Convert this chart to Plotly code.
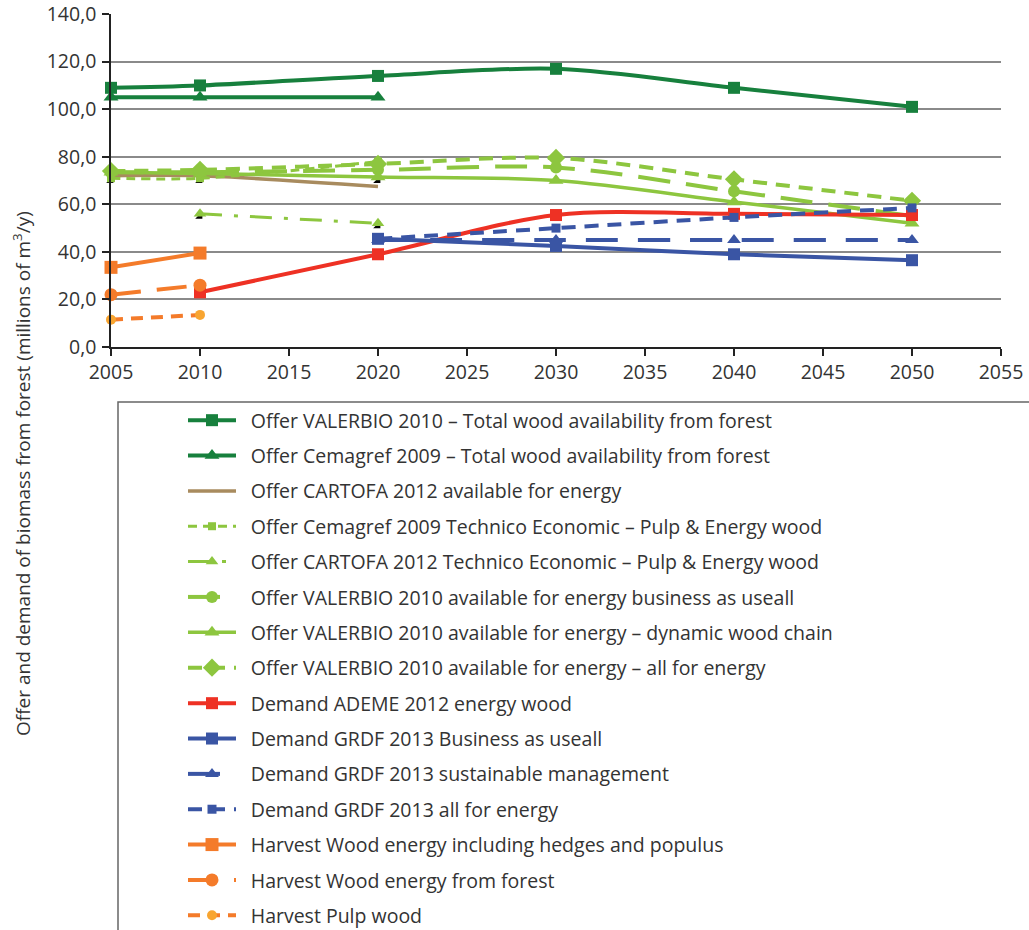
import plotly.graph_objects as go

# ---------------- data ----------------
years_all = [2005, 2010, 2020, 2030, 2040, 2050]
years_early = [2005, 2010, 2020]
years_2010_2020 = [2010, 2020]
years_demand = [2010, 2020, 2030, 2040, 2050]
years_grdf = [2020, 2030, 2040, 2050]
years_harvest = [2005, 2010]

valerbio_total = [109, 110, 114, 117, 109, 101]
cemagref_total = [105, 105, 105]
cartofa_energy = [72, 72, 67.5]
cemagref_tech = [71, 71, 78]
cartofa_tech = [56, 52]
valerbio_bau = [73.5, 73.5, 74.5, 75.5, 65.5, 55]
valerbio_dyn = [73.5, 73, 71.5, 70, 61, 52]
valerbio_all = [74, 74.5, 77, 79.5, 70.5, 61.5]
ademe_demand = [23, 39, 55.5, 56, 55.5]
grdf_bau = [45.5, 42.5, 39, 36.5]
grdf_sust = [45, 45, 45, 45]
grdf_all = [45.5, 50, 54.5, 58.5]
harvest_hedges = [33.5, 39.5]
harvest_forest = [22, 26]
harvest_pulp = [11.5, 13.5]

shadow_years = [2005, 2010, 2020, 2010, 2020]
shadow_values = [70, 70, 70, 55, 51]

y_ticks = [0, 20, 40, 60, 80, 100, 120, 140]

names = [
    "Offer VALERBIO 2010 – Total wood availability from forest",
    "Offer Cemagref 2009 – Total wood availability from forest",
    "Offer CARTOFA 2012 available for energy",
    "Offer Cemagref 2009 Technico Economic – Pulp & Energy wood",
    "Offer CARTOFA 2012 Technico Economic – Pulp & Energy wood",
    "Offer VALERBIO 2010 available for energy business as useall",
    "Offer VALERBIO 2010 available for energy – dynamic wood chain",
    "Offer VALERBIO 2010 available for energy – all for energy",
    "Demand ADEME 2012 energy wood",
    "Demand GRDF 2013 Business as useall",
    "Demand GRDF 2013 sustainable management",
    "Demand GRDF 2013 all for energy",
    "Harvest Wood energy including hedges and populus",
    "Harvest Wood energy from forest",
    "Harvest Pulp wood",
]

DKGREEN = "#17803D"
LTGREEN = "#8DC63F"
BROWN = "#A88B5E"
RED = "#EE3124"
BLUE = "#3A55A4"
ORANGE = "#F47B2A"
LTORANGE = "#F8A531"

series = [
    # x, y, line color, width, dash, marker symbol, marker size, marker color, legend
    (years_all, valerbio_total, DKGREEN, 4, "solid", "square", 12, DKGREEN, "legend"),
    (years_early, cemagref_total, DKGREEN, 4, "solid", "triangle-up", 13, DKGREEN, "legend"),
    (years_early, cartofa_energy, BROWN, 3.5, "solid", None, 0, BROWN, "legend"),
    (years_early, cemagref_tech, LTGREEN, 3, "9px,6px", "square", 8, LTGREEN, "legend"),
    (years_2010_2020, cartofa_tech, LTGREEN, 3, "22px,12px,4px,12px", "triangle-up", 11, LTGREEN, "legend"),
    (years_all, valerbio_bau, LTGREEN, 4, "32px,16px", "circle", 12, LTGREEN, "legend"),
    (years_all, valerbio_dyn, LTGREEN, 3.5, "solid", "triangle-up", 13, LTGREEN, "legend"),
    (years_all, valerbio_all, LTGREEN, 4, "14px,9px", "diamond", 14, LTGREEN, "legend"),
    (years_demand, ademe_demand, RED, 4, "solid", "square", 12, RED, "legend2"),
    (years_grdf, grdf_bau, BLUE, 4, "solid", "square", 12, BLUE, "legend2"),
    (years_grdf, grdf_sust, BLUE, 4, "32px,20px", "triangle-up", 12, BLUE, "legend2"),
    (years_grdf, grdf_all, BLUE, 4, "14px,9px", "square", 9, BLUE, "legend2"),
    (years_harvest, harvest_hedges, ORANGE, 4, "solid", "square", 13, ORANGE, "legend2"),
    (years_harvest, harvest_forest, ORANGE, 4, "30px,16px", "circle", 13, ORANGE, "legend2"),
    (years_harvest, harvest_pulp, ORANGE, 4, "12px,8px", "circle", 10, LTORANGE, "legend2"),
]

fig = go.Figure()

# shadows of markers (drawn first, under lines)
fig.add_trace(go.Scatter(
    x=shadow_years, y=shadow_values, mode="markers",
    marker=dict(symbol="triangle-se", size=8, color="black"),
    showlegend=False, hoverinfo="skip", cliponaxis=False,
))

for i, (xs, ys, lc, lw, dash, sym, msz, mc, leg) in enumerate(series):
    mode = "lines+markers" if sym else "lines"
    fig.add_trace(go.Scatter(
        x=xs, y=ys, name="\u2002" + names[i], mode=mode,
        line=dict(color=lc, width=lw, dash=dash, shape="spline", smoothing=0.9),
        marker=dict(symbol=sym or "circle", size=msz, color=mc, line=dict(width=0)),
        legend=leg, legendgroup=f"g{i}", cliponaxis=False,
    ))

# plot geometry (page px; body margin removed via post_script)
OFF = 0
W, H = 1029, 930
L, T = 111, 14
pw, ph = 890, 333
R, B = W - L - pw, H - T - ph

def px_x(px):  # page px -> paper x
    return (px - OFF - L) / pw

def px_y(py):  # page px -> paper y
    return (H - B - (py - OFF)) / ph

FONT = "Open Sans"
legend_common = dict(
    font=dict(family=FONT, size=19.5, color="#333333"),
    bgcolor="rgba(0,0,0,0)", borderwidth=0,
    itemwidth=48, tracegroupgap=7.0, xanchor="left", yanchor="top",
    orientation="v", itemclick=False, itemdoubleclick=False,
)

fig.update_layout(
    width=W, height=H,
    margin=dict(l=L, r=R, t=T, b=B, autoexpand=False),
    paper_bgcolor="white", plot_bgcolor="white",
    separators=", ",
    font=dict(family=FONT, size=19, color="#333333"),
    legend=dict(x=px_x(183), y=px_y(401), **legend_common),
    legend2=dict(x=px_x(183), y=px_y(684), **legend_common),
    xaxis=dict(
        range=[2005, 2055], dtick=5, tick0=2005,
        showgrid=False, zeroline=False,
        showline=True, linecolor="#222222", linewidth=1.5,
        ticks="outside", ticklen=7, tickcolor="#222222", tickwidth=1.5,
        tickfont=dict(size=19.5, color="#333333"), ticklabeloverflow="allow",
    ),
    yaxis=dict(
        range=[0, 140.05], tickmode="array", tickvals=y_ticks, tickformat=".1f",
        showgrid=True, gridcolor="#8a8a8a", gridwidth=1.5, zeroline=False,
        showline=True, linecolor="#222222", linewidth=1.5,
        ticks="outside", ticklen=7, tickcolor="#222222", tickwidth=1.5,
        tickfont=dict(size=19.5, color="#333333"), ticklabeloverflow="allow",
        ticklabelstandoff=2,
    ),
    shapes=[dict(
        type="rect", xref="paper", yref="paper",
        x0=px_x(118), x1=px_x(1060), y0=px_y(402), y1=px_y(960),
        line=dict(color="#666666", width=1.5), fillcolor="rgba(0,0,0,0)",
        layer="below",
    )],
    annotations=[dict(
        text="Offer and demand of biomass from forest (millions of m<sup>3</sup>/y)",
        xref="paper", yref="paper", x=px_x(22), y=px_y(474),
        textangle=-90, showarrow=False, xanchor="center", yanchor="middle",
        font=dict(family=FONT, size=19, color="#333333"),
    )],
)

fig.write_html(
    "out.html",
    config={"displayModeBar": False},
    post_script="document.body.style.margin='0';document.body.style.overflow='hidden';",
)
